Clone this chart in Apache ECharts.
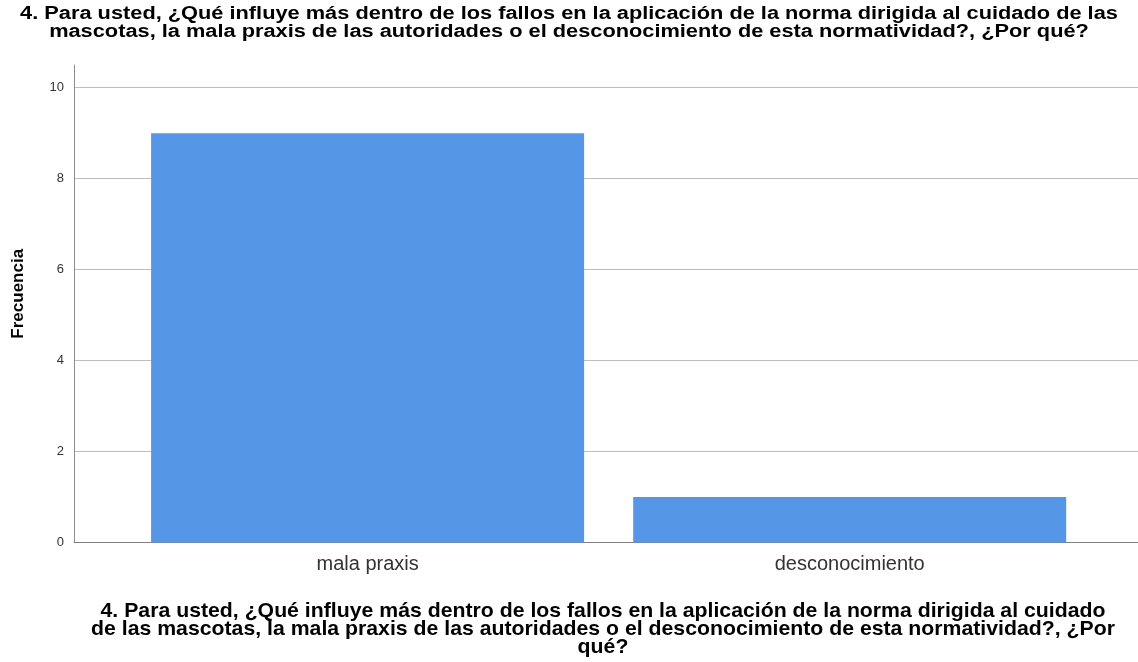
<!DOCTYPE html>
<html>
<head>
<meta charset="utf-8">
<script src="https://cdn.jsdelivr.net/npm/echarts@6/dist/echarts.min.js"></script>
<style>
  html, body { margin: 0; padding: 0; background: #fff; }
  #chart { width: 1138px; height: 662px; }
</style>
</head>
<body>
<div id="chart"></div>
<script>
  // datos
  const categorias = ['mala praxis', 'desconocimiento'];
  const frecuencias = [9, 1];
  const yTicks = [0, 2, 4, 6, 8, 10];

  const titulo = '4. Para usted, ¿Qué influye más dentro de los fallos en la aplicación de la norma dirigida al cuidado de las\n' +
    'mascotas, la mala praxis de las autoridades o el desconocimiento de esta normatividad?, ¿Por qué?';
  const tituloEje = '4. Para usted, ¿Qué influye más dentro de los fallos en la aplicación de la norma dirigida al cuidado\n' +
    'de las mascotas, la mala praxis de las autoridades o el desconocimiento de esta normatividad?, ¿Por\n' +
    'qué?';

  let chart = echarts.init(document.getElementById('chart'), null, {renderer: 'canvas'});
  chart.setOption({
    animation: false,
    backgroundColor: '#fff',
    graphic: [{
      type: 'text',
      x: 569,
      y: 5,
      scaleX: 1.21,
      style: {
        text: titulo,
        align: 'center',
        fontFamily: 'Liberation Sans',
        fontWeight: 'bold',
        fontSize: 18,
        lineHeight: 18,
        fill: '#000'
      }
    }, {
      type: 'text',
      x: 603,
      y: 603,
      scaleX: 1.25,
      scaleY: 1.15,
      style: {
        text: tituloEje,
        align: 'center',
        fontFamily: 'Liberation Sans',
        fontWeight: 'bold',
        fontSize: 17,
        lineHeight: 15.6,
        fill: '#000'
      }
    }],
    grid: {
      left: 74,
      right: 0,
      top: 65,
      bottom: 119.5,
      outerBoundsMode: 'none'
    },
    xAxis: {
      type: 'value',
      min: -0.609,
      max: 1.598,
      axisLine: {show: true, onZero: false, lineStyle: {color: '#7f7f7f', width: 1}},
      axisTick: {show: false},
      splitLine: {show: false},
      axisLabel: {
        customValues: [0, 1],
        formatter: v => categorias[Math.round(v)] || '',
        margin: 12,
        fontFamily: 'Liberation Sans',
        fontSize: 20,
        color: '#333'
      }
    },
    yAxis: {
      type: 'value',
      min: 0,
      max: 10.5,
      name: 'Frecuencia',
      nameLocation: 'middle',
      nameRotate: 90,
      nameGap: 47,
      nameTextStyle: {
        fontFamily: 'Liberation Sans',
        fontWeight: 'bold',
        fontSize: 17,
        color: '#000',
        padding: [0, 0, 0, 20]
      },
      axisLine: {show: true, onZero: false, lineStyle: {color: '#8c8c8c', width: 1}},
      axisTick: {show: false, customValues: yTicks},
      axisLabel: {
        customValues: yTicks,
        margin: 10,
        fontFamily: 'Liberation Sans',
        fontSize: 13,
        color: '#333'
      },
      splitLine: {
        show: true,
        lineStyle: {color: '#bdbdbd', width: 1}
      }
    },
    series: [{
      type: 'bar',
      barWidth: 433,
      data: frecuencias.map((v, i) => [i, v]),
      itemStyle: {color: '#5596e6'}
    }]
  });
</script>
</body>
</html>
